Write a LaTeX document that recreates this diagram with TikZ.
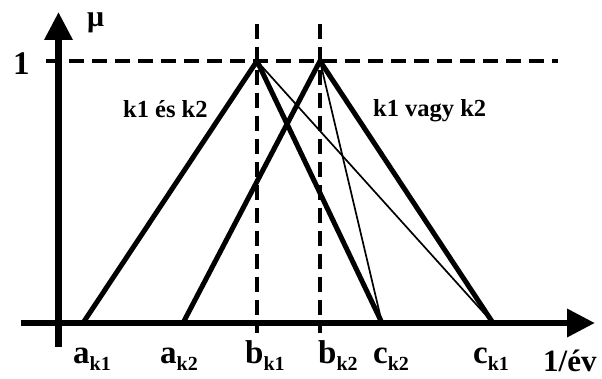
\documentclass[tikz,border=0pt]{standalone}
\usepackage{fontspec}
\setmainfont{Liberation Serif}
\usetikzlibrary{arrows.meta}
\definecolor{InkBlack}{HTML}{000000}

\newcommand{\labfont}{\fontsize{33}{33}\selectfont}
\newcommand{\subfont}{\fontsize{20}{20}\selectfont}
\newcommand{\setfont}{\fontsize{24.5}{24.5}\selectfont}
\newcommand{\sublab}[2]{#1\raisebox{-7pt}{\subfont #2}}

\begin{document}
\begin{tikzpicture}[x=1pt,y=-1pt, every node/.style={font=\bfseries\labfont, inner sep=0pt, anchor=base west, text=InkBlack},
  axis/.style={InkBlack, line width=6.5pt, -{Triangle[length=28pt,width=27pt]}},
  guide/.style={InkBlack, line width=3.5pt, dash pattern=on 15pt off 8pt},
  member/.style={InkBlack, line width=5pt, line join=round},
  edge/.style={InkBlack, line width=1.7pt}]
  \useasboundingbox (0,0) rectangle (602,379);
  % points of the two triangles
  \coordinate (ak1) at (83,323);
  \coordinate (ak2) at (183,323);
  \coordinate (bk1) at (257,61);
  \coordinate (bk2) at (320,61);
  \coordinate (ck2) at (382,323);
  \coordinate (ck1) at (493,323);
  \coordinate (top) at (0,24);
  \coordinate (low) at (0,333);
  \coordinate (left) at (46,61);
  \coordinate (right) at (558,61);
  % dashed guides
  \draw[guide] (left) -- (right);
  \foreach \p in {bk1,bk2}
    \draw[guide] (\p |- top) -- (\p |- low);
  % original right sides
  \draw[edge] (bk1) -- (ck1);
  \draw[edge] (bk2) -- (ck2);
  % k1 es k2 / k1 vagy k2
  \draw[member] (ak1) -- (bk1) -- (ck2);
  \draw[member] (ak2) -- (bk2) -- (ck1);
  % axes
  \coordinate (xstart) at (21,323);
  \coordinate (xend) at (595,323);
  \coordinate (ystart) at (58.5,347);
  \coordinate (yend) at (58.5,12);
  \draw[axis] (xstart) -- (xend);
  \draw[axis] (ystart) -- (yend);
  % labels
  \foreach \n/\x/\m/\s in {lak1/73/a/k1, lak2/160/a/k2, lbk1/245/b/k1, lbk2/318/b/k2, lck2/373/c/k2, lck1/473/c/k1}
    \node (\n) at (\x,363) {\sublab{\m}{\s}};
  \node (one) at (13,75) {1};
  \node[font=\bfseries\fontsize{30}{30}\selectfont] (mu) at (87,27) {μ};
  \node[font=\bfseries\fontsize{31}{31}\selectfont] (unit) at (543,371) {1/év};
  \node[font=\bfseries\setfont] (andset) at (123,118) {k1 és k2};
  \node[font=\bfseries\setfont] (orset) at (373,117) {k1 vagy k2};
\end{tikzpicture}
\end{document}
